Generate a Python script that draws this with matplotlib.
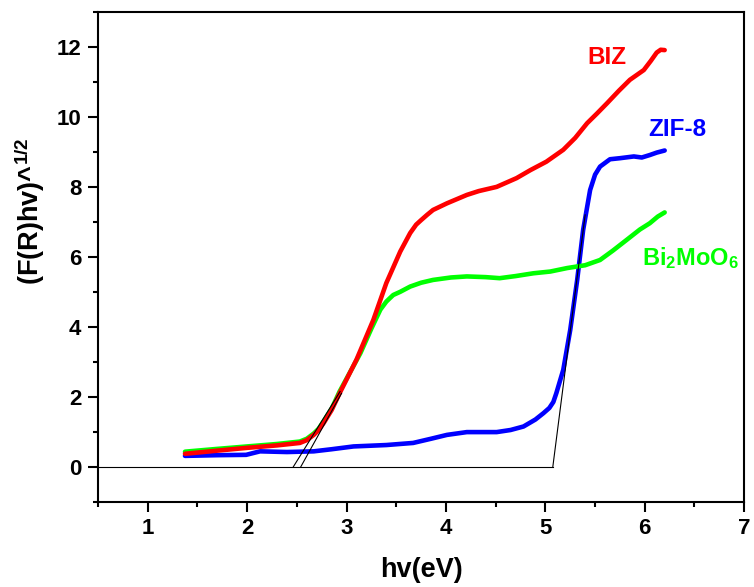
import matplotlib
matplotlib.use("Agg")
import matplotlib.pyplot as plt
from matplotlib.ticker import MultipleLocator

plt.rcParams['font.family'] = ['Liberation Sans', 'DejaVu Sans']
plt.rcParams['font.weight'] = 'bold'
plt.rcParams['mathtext.fontset'] = 'custom'
plt.rcParams['mathtext.rm'] = 'Liberation Sans:bold'
plt.rcParams['mathtext.bf'] = 'Liberation Sans:bold'
plt.rcParams['mathtext.it'] = 'Liberation Sans:bold'
plt.rcParams['mathtext.default'] = 'rm'

# Data (hv in eV, (F(R)hv)^1/2)
biz_x = [1.375, 1.7, 2.0, 2.3, 2.53, 2.60, 2.67, 2.72, 2.77, 2.85, 2.93, 3.10, 3.27, 3.40, 3.54,
         3.64, 3.70, 3.75, 3.81, 3.87, 4.01, 4.21, 4.33, 4.51, 4.71, 4.85, 5.01, 5.18, 5.30,
         5.42, 5.52, 5.62, 5.74, 5.85, 5.99, 6.06, 6.12, 6.16, 6.20]
biz_y = [0.37, 0.46, 0.54, 0.61, 0.68, 0.76, 0.91, 1.05, 1.25, 1.62, 2.10, 3.06, 4.20, 5.25, 6.15,
         6.68, 6.92, 7.05, 7.20, 7.34, 7.53, 7.77, 7.88, 8.00, 8.25, 8.48, 8.72, 9.06, 9.40,
         9.82, 10.10, 10.39, 10.75, 11.06, 11.34, 11.60, 11.84, 11.92, 11.91]

bmo_x = [1.375, 1.7, 2.0, 2.3, 2.53, 2.60, 2.67, 2.72, 2.77, 2.85, 2.93, 3.14, 3.25, 3.34, 3.40,
         3.44, 3.47, 3.54, 3.64, 3.75, 3.87, 4.05, 4.21, 4.40, 4.54, 4.70, 4.88, 5.05, 5.22,
         5.40, 5.55, 5.68, 5.82, 5.95, 6.05, 6.13, 6.20]
bmo_y = [0.43, 0.51, 0.58, 0.65, 0.72, 0.80, 0.95, 1.09, 1.30, 1.66, 2.15, 3.25, 3.95, 4.49, 4.72,
         4.83, 4.91, 5.00, 5.15, 5.26, 5.34, 5.41, 5.44, 5.42, 5.39, 5.45, 5.53, 5.58, 5.68,
         5.76, 5.91, 6.18, 6.49, 6.78, 6.96, 7.15, 7.27]

zif_x = [1.375, 1.7, 1.99, 2.13, 2.40, 2.67, 2.85, 3.07, 3.40, 3.67, 3.85, 4.01, 4.21, 4.51,
         4.65, 4.78, 4.90, 4.98, 5.04, 5.08, 5.11, 5.18, 5.25, 5.32, 5.38, 5.45, 5.50, 5.55,
         5.65, 5.75, 5.89, 5.97, 6.05, 6.12, 6.20]
zif_y = [0.31, 0.33, 0.34, 0.44, 0.42, 0.44, 0.50, 0.58, 0.62, 0.68, 0.80, 0.91, 0.99, 0.99,
         1.05, 1.15, 1.35, 1.53, 1.68, 1.85, 2.10, 2.77, 3.91, 5.34, 6.77, 7.91, 8.35, 8.58,
         8.79, 8.82, 8.87, 8.84, 8.91, 8.98, 9.04]

# Tangent (band-gap extrapolation) lines
base_x = [0.5, 5.075]
base_y = [0.0, 0.0]
tan_bmo_x = [2.465, 2.935]
tan_bmo_y = [0.0, 2.15]
tan_biz_x = [2.54, 2.95]
tan_biz_y = [0.0, 2.10]
tan_zif_x = [5.075, 5.40]
tan_zif_y = [0.0, 7.20]

fig = plt.figure(figsize=(7.54, 5.87), dpi=100)
ax = fig.add_axes([0.130, 0.1453, 0.857, 0.8343])

ax.plot(zif_x, zif_y, color='#0000ff', lw=3.3, zorder=3, solid_capstyle='round')
ax.plot(bmo_x, bmo_y, color='#00ff00', lw=3.3, zorder=3, solid_capstyle='round')
ax.plot(biz_x, biz_y, color='#ff0000', lw=3.3, zorder=4, solid_capstyle='round')

for xs, ys in [(base_x, base_y), (tan_bmo_x, tan_bmo_y), (tan_biz_x, tan_biz_y), (tan_zif_x, tan_zif_y)]:
    ax.plot(xs, ys, color='black', lw=0.8, zorder=5)

ax.text(5.62, 11.71, 'BIZ', color='#ff0000', fontsize=17.5, fontweight='bold', ha='center', va='center')
ax.text(6.33, 9.63, 'ZIF-8', color='#0000ff', fontsize=17.5, fontweight='bold', ha='center', va='center')
ax.text(6.46, 5.97, r'Bi$_2$MoO$_6$', color='#00ff00', fontsize=17, fontweight='bold', ha='center', va='center')

ax.set_xlim(0.5, 7.0)
ax.set_ylim(-1, 13)
ax.xaxis.set_minor_locator(MultipleLocator(0.5))
ax.yaxis.set_minor_locator(MultipleLocator(1))
ax.set_xticks([1, 2, 3, 4, 5, 6, 7])
ax.set_yticks([0, 2, 4, 6, 8, 10, 12])

for s in ax.spines.values():
    s.set_linewidth(1.5)
ax.tick_params(which='major', direction='out', length=7, width=1.5, labelsize=16, pad=5, top=False, right=False)
ax.tick_params(which='minor', direction='out', length=3.5, width=1.5, top=False, right=False)
for lab in ax.get_xticklabels() + ax.get_yticklabels():
    lab.set_fontweight('bold')

ax.set_xlabel('hv(eV)', fontsize=19.5, fontweight='bold', va='top')
ax.xaxis.set_label_coords(0.5, -0.112)
ax.set_ylabel(r'(F(R)hv)^$^{1/2}$', fontsize=19.5, fontweight='bold', va='bottom')
ax.yaxis.set_label_coords(-0.079, 0.594)

fig.savefig('out.png', dpi=100)
